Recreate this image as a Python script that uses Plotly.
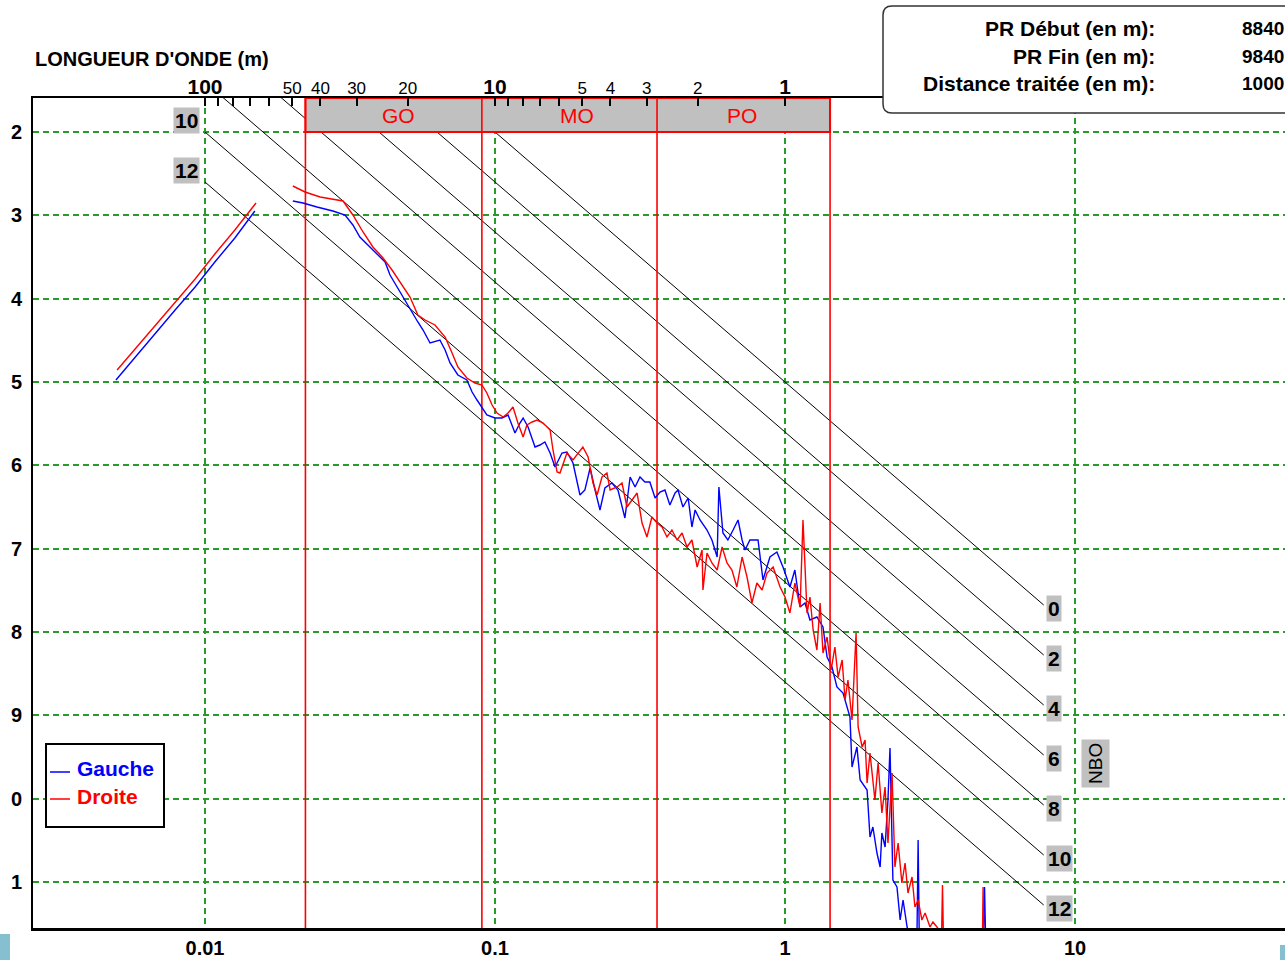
import numpy as np
import plotly.graph_objects as go

# ---------------- DATA ----------------
# x : log10 of wavenumber (cycles/m) ; y : log10 of PSD
gauche_low_logk = [-2.307, -2.241, -2.172, -2.103, -2.034, -1.966, -1.897, -1.828]
gauche_low_logpsd = [-4.976, -4.700, -4.412, -4.136, -3.860, -3.560, -3.272, -2.948]
droite_low_logk = [-2.303, -2.241, -2.172, -2.103, -2.034, -1.966, -1.897, -1.824]
droite_low_logpsd = [-4.856, -4.604, -4.316, -4.040, -3.764, -3.464, -3.176, -2.852]

gauche_logk = [-1.697, -1.662, -1.614, -1.559, -1.517, -1.490, -1.466, -1.421, -1.379, -1.362,
               -1.338, -1.310, -1.286, -1.266, -1.248, -1.224, -1.190, -1.172, -1.155, -1.128,
               -1.097, -1.079, -1.062, -1.045, -1.028, -1.000, -0.976, -0.955, -0.931, -0.914,
               -0.903, -0.886, -0.862, -0.845, -0.828, -0.810, -0.793, -0.769, -0.752, -0.731,
               -0.707, -0.690, -0.672, -0.655, -0.638, -0.621, -0.597, -0.576, -0.552, -0.534,
               -0.517, -0.500, -0.483, -0.466, -0.448, -0.431, -0.414, -0.397, -0.379, -0.369,
               -0.352, -0.334, -0.321, -0.310, -0.293, -0.269, -0.252, -0.234, -0.228, -0.214,
               -0.197, -0.179, -0.162, -0.148, -0.138, -0.121, -0.093, -0.076, -0.052, -0.028,
               -0.007, 0.017, 0.034, 0.052, 0.069, 0.086, 0.110, 0.131, 0.145, 0.162,
               0.179, 0.200, 0.214, 0.224, 0.231, 0.248, 0.259, 0.283, 0.293, 0.303,
               0.317, 0.328, 0.334, 0.345, 0.355, 0.362, 0.372, 0.386, 0.397, 0.407,
               0.421, 0.431, 0.455, 0.459, 0.463, 0.560, 0.683, 0.688, 0.693]
gauche_logpsd = [-2.828, -2.852, -2.900, -2.948, -2.996, -3.116, -3.260, -3.416, -3.560, -3.716,
                 -3.860, -4.016, -4.160, -4.280, -4.376, -4.532, -4.496, -4.616, -4.772, -4.916,
                 -4.976, -5.120, -5.216, -5.300, -5.396, -5.432, -5.432, -5.396, -5.612, -5.492,
                 -5.432, -5.540, -5.780, -5.756, -5.720, -5.852, -6.020, -5.852, -5.840, -5.972,
                 -6.356, -6.296, -6.032, -6.296, -6.536, -6.272, -6.212, -6.296, -6.632, -6.140,
                 -6.260, -6.140, -6.200, -6.200, -6.392, -6.320, -6.296, -6.476, -6.332, -6.296,
                 -6.500, -6.392, -6.740, -6.536, -6.656, -6.776, -6.896, -7.100, -6.260, -6.812,
                 -6.896, -6.776, -6.656, -6.896, -7.016, -6.896, -6.896, -7.376, -7.100, -7.040,
                 -7.220, -7.460, -7.256, -7.700, -7.652, -7.856, -7.820, -7.940, -8.300, -8.420,
                 -8.660, -8.732, -8.900, -9.020, -9.620, -9.380, -9.776, -9.896, -10.460, -10.340,
                 -10.652, -10.820, -10.412, -10.580, -10.016, -9.392, -10.976, -11.060, -11.456, -11.216,
                 -11.540, -11.696, -11.650, -10.496, -11.700, -12.100, -11.900, -11.060, -11.900]

droite_logk = [-1.697, -1.655, -1.603, -1.524, -1.490, -1.455, -1.421, -1.386, -1.355, -1.328,
               -1.293, -1.266, -1.241, -1.207, -1.172, -1.148, -1.128, -1.097, -1.069, -1.045,
               -1.028, -1.010, -0.993, -0.972, -0.955, -0.938, -0.921, -0.903, -0.890, -0.872,
               -0.855, -0.834, -0.810, -0.800, -0.786, -0.776, -0.752, -0.731, -0.714, -0.697,
               -0.679, -0.662, -0.648, -0.631, -0.614, -0.603, -0.579, -0.562, -0.545, -0.528,
               -0.510, -0.493, -0.476, -0.459, -0.441, -0.424, -0.407, -0.390, -0.372, -0.355,
               -0.338, -0.321, -0.303, -0.286, -0.283, -0.269, -0.252, -0.234, -0.217, -0.200,
               -0.183, -0.166, -0.148, -0.131, -0.114, -0.097, -0.079, -0.062, -0.041, -0.017,
               0.000, 0.017, 0.034, 0.052, 0.062, 0.076, 0.086, 0.097, 0.110, 0.121,
               0.131, 0.145, 0.159, 0.172, 0.183, 0.197, 0.207, 0.217, 0.231, 0.245,
               0.252, 0.266, 0.276, 0.283, 0.293, 0.310, 0.321, 0.334, 0.345, 0.355,
               0.369, 0.379, 0.390, 0.403, 0.414, 0.424, 0.438, 0.448, 0.459, 0.472,
               0.483, 0.500, 0.510, 0.524, 0.540, 0.543, 0.546, 0.620, 0.680, 0.683, 0.686]
droite_logpsd = [-2.648, -2.720, -2.780, -2.828, -2.996, -3.200, -3.380, -3.512, -3.656, -3.800,
                 -3.980, -4.196, -4.256, -4.316, -4.460, -4.652, -4.820, -4.952, -5.012, -5.036,
                 -5.132, -5.276, -5.372, -5.420, -5.372, -5.300, -5.492, -5.660, -5.516, -5.480,
                 -5.456, -5.492, -5.576, -5.816, -6.080, -6.092, -5.852, -5.936, -5.852, -5.780,
                 -5.900, -6.212, -6.356, -6.140, -6.092, -6.296, -6.260, -6.212, -6.500, -6.416,
                 -6.332, -6.692, -6.860, -6.620, -6.692, -6.740, -6.860, -6.776, -6.896, -6.812,
                 -6.980, -6.896, -7.220, -7.016, -7.496, -7.052, -7.172, -7.256, -6.980, -7.172,
                 -7.256, -7.460, -7.100, -7.340, -7.652, -7.412, -7.496, -7.292, -7.220, -7.460,
                 -7.580, -7.772, -7.412, -7.700, -6.656, -7.772, -7.580, -7.976, -8.216, -7.652,
                 -8.252, -8.060, -8.456, -8.180, -8.540, -8.336, -8.816, -8.576, -9.056, -8.012,
                 -9.140, -9.380, -9.296, -9.812, -9.452, -10.016, -9.572, -10.172, -9.860, -10.532,
                 -9.692, -10.820, -10.532, -11.012, -10.772, -11.132, -10.940, -11.300, -11.216, -11.456,
                 -11.372, -11.540, -11.480, -11.540, -11.620, -11.036, -11.620, -12.200, -11.900, -11.060, -11.900]

# band limits (wavenumber, cycles/m) and names
band_edges_k = [0.0222, 0.0901, 0.362, 1.43]
band_names = ["GO", "MO", "PO"]

# NBO reference lines: log10(PSD) = nbo_intercept + nbo_slope*log10(k) - nbo_step*NBO
nbo_levels = [0, 2, 4, 6, 8, 10, 12]
nbo_left_labels = [10, 12]
nbo_k_start = 0.01
nbo_k_end = 7.8
nbo_slope = -3.0
nbo_intercept = -5.0
nbo_step = 0.3

# axes
x_ticks = [0.01, 0.1, 1, 10]
x_ticklabels = ["0.01", "0.1", "1", "10"]
y_ticks = [-2, -3, -4, -5, -6, -7, -8, -9, -10, -11]
y_ticklabels = ["2", "3", "4", "5", "6", "7", "8", "9", "0", "1"]
wl_ticks = [100, 90, 80, 70, 60, 50, 40, 30, 20, 10, 9, 8, 7, 6, 5, 4, 3, 2, 1]
wl_major = [100, 10, 1]
wl_labelled = [50, 40, 30, 20, 5, 4, 3, 2]

info_labels = ["PR Début (en m):", "PR Fin (en m):", "Distance traitée (en m):"]
info_values = ["8840", "9840", "1000"]

# ---------------- LAYOUT HELPERS ----------------
W, H = 1285, 960
L, R, T, B = 33, 1285, 98, 928
XR = [-2.593, 1.724]
YR = [-11.552, -1.592]
NARROW = "Liberation Sans Narrow, Arial Narrow, Liberation Sans, Arial, sans-serif"
GREEN = "#2a9a2a"


def px(x):
    return (x - L) / (R - L)


def py(y):
    return (B - y) / (B - T)


fig = go.Figure()

# NBO lines
for n in nbo_levels:
    ks = np.array([nbo_k_start, nbo_k_end])
    ys = nbo_intercept + nbo_slope * np.log10(ks) - nbo_step * n
    fig.add_trace(go.Scatter(x=ks, y=ys, mode="lines", line=dict(color="black", width=1),
                             showlegend=False, hoverinfo="skip"))

# grey band with red border
k0, k3 = band_edges_k[0], band_edges_k[-1]
fig.add_trace(go.Scatter(x=[k0, k3, k3, k0, k0], y=[YR[1], YR[1], -2, -2, YR[1]],
                         fill="toself", fillcolor="#c0c0c0", mode="lines",
                         line=dict(color="red", width=2), showlegend=False, hoverinfo="skip"))
# red vertical lines
for kb in band_edges_k:
    fig.add_trace(go.Scatter(x=[kb, kb], y=[YR[1], YR[0]], mode="lines",
                             line=dict(color="red", width=1.6), showlegend=False, hoverinfo="skip"))

# data
gx = list(10 ** np.array(gauche_low_logk)) + [None] + list(10 ** np.array(gauche_logk))
gy = list(gauche_low_logpsd) + [None] + list(gauche_logpsd)
dx = list(10 ** np.array(droite_low_logk)) + [None] + list(10 ** np.array(droite_logk))
dy = list(droite_low_logpsd) + [None] + list(droite_logpsd)
fig.add_trace(go.Scatter(x=gx, y=gy, mode="lines", name="Gauche",
                         line=dict(color="#0000ff", width=1.4), connectgaps=False, showlegend=False))
fig.add_trace(go.Scatter(x=dx, y=dy, mode="lines", name="Droite",
                         line=dict(color="#ff0000", width=1.4), connectgaps=False, showlegend=False))

# dummy trace for top axis
fig.add_trace(go.Scatter(x=[1], y=[None], xaxis="x2", mode="lines", showlegend=False, hoverinfo="skip"))

# top axis tick text
wl_text = []
for w in wl_ticks:
    if w in wl_major:
        wl_text.append('<span style="font-size:21px"><b>%d</b></span>' % w)
    elif w in wl_labelled:
        wl_text.append(str(w))
    else:
        wl_text.append("")

annotations = []
# band names
band_label_shift = [5, 8, -2]
for i, name in enumerate(band_names):
    kc = np.sqrt(band_edges_k[i] * band_edges_k[i + 1])
    annotations.append(dict(x=np.log10(kc), y=-1.80, xref="x", yref="y", text=name,
                            showarrow=False, xshift=band_label_shift[i],
                            font=dict(family=NARROW, size=21, color="red")))
# NBO labels on the right
for n in nbo_levels:
    ye = nbo_intercept + nbo_slope * np.log10(nbo_k_end) - nbo_step * n
    annotations.append(dict(x=np.log10(nbo_k_end), y=ye, xref="x", yref="y", text="<b>%d</b>" % n,
                            showarrow=False, xanchor="left", yanchor="middle", xshift=2, yshift=-3,
                            bgcolor="#c0c0c0", borderpad=1,
                            font=dict(family=NARROW, size=21, color="black")))
# NBO labels on the left
for n in nbo_left_labels:
    ys = nbo_intercept + nbo_slope * np.log10(nbo_k_start) - nbo_step * n
    annotations.append(dict(x=np.log10(nbo_k_start), y=ys, xref="x", yref="y", text="<b>%d</b>" % n,
                            showarrow=False, xanchor="right", yanchor="bottom", xshift=-5, yshift=-2,
                            bgcolor="#c0c0c0", borderpad=1,
                            font=dict(family=NARROW, size=21, color="black")))
# NBO vertical label
annotations.append(dict(x=px(1095), y=py(764), xref="paper", yref="paper", text="NBO", textangle=-90,
                        showarrow=False, bgcolor="#c0c0c0", borderpad=3, xanchor="center", yanchor="middle",
                        font=dict(family="Liberation Sans, Arial", size=19, color="black")))
# top-left title
annotations.append(dict(x=px(33), y=py(59), xref="paper", yref="paper", text="<b>LONGUEUR D'ONDE (m)</b>",
                        showarrow=False, xanchor="left", yanchor="middle",
                        font=dict(family=NARROW, size=20, color="black")))
# info box texts
for lab, val, yy in zip(info_labels, info_values, [29, 57, 84]):
    annotations.append(dict(x=px(1157), y=py(yy), xref="paper", yref="paper", text="<b>%s</b>" % lab,
                            showarrow=False, xanchor="right", yanchor="middle",
                            font=dict(family=NARROW, size=21, color="black")))
    annotations.append(dict(x=px(1240), y=py(yy), xref="paper", yref="paper", text="<b>%s</b>" % val,
                            showarrow=False, xanchor="left", yanchor="middle",
                            font=dict(family=NARROW, size=19, color="black")))
# legend texts
annotations.append(dict(x=px(75), y=py(768), xref="paper", yref="paper", text="<b>Gauche</b>",
                        showarrow=False, xanchor="left", yanchor="middle",
                        font=dict(family=NARROW, size=21, color="#0000ff")))
annotations.append(dict(x=px(75), y=py(796), xref="paper", yref="paper", text="<b>Droite</b>",
                        showarrow=False, xanchor="left", yanchor="middle",
                        font=dict(family=NARROW, size=21, color="#ff0000")))

shapes = []
# info box (rounded)
bl, bt, br, bb, r = 883, 6, 1300, 113, 9
path = ("M %f,%f L %f,%f L %f,%f L %f,%f Q %f,%f %f,%f L %f,%f Q %f,%f %f,%f Z" % (
    px(bl + r), py(bt), px(br), py(bt), px(br), py(bb), px(bl + r), py(bb),
    px(bl), py(bb), px(bl), py(bb - r), px(bl), py(bt + r), px(bl), py(bt), px(bl + r), py(bt)))
shapes.append(dict(type="path", path=path, xref="paper", yref="paper", fillcolor="white",
                   line=dict(color="#333333", width=1.5), layer="above"))
# legend box
shapes.append(dict(type="rect", x0=px(46), x1=px(164), y0=py(744), y1=py(827), xref="paper", yref="paper",
                   fillcolor="white", line=dict(color="black", width=2), layer="above"))
shapes.append(dict(type="line", x0=px(50), x1=px(70), y0=py(772), y1=py(772), xref="paper", yref="paper",
                   line=dict(color="#0000ff", width=1.5), layer="above"))
shapes.append(dict(type="line", x0=px(50), x1=px(70), y0=py(799), y1=py(799), xref="paper", yref="paper",
                   line=dict(color="#ff0000", width=1.5), layer="above"))
# decorative slide marks
shapes.append(dict(type="rect", x0=px(0), x1=px(10), y0=py(960), y1=py(934), xref="paper", yref="paper",
                   fillcolor="#86bfd0", line=dict(width=0), layer="above"))
shapes.append(dict(type="rect", x0=px(1280), x1=px(1286), y0=py(960), y1=py(945), xref="paper", yref="paper",
                   fillcolor="#86bfd0", line=dict(width=0), layer="above"))

fig.update_layout(
    width=W, height=H,
    margin=dict(l=L, r=W - R, t=T, b=H - B, pad=0),
    paper_bgcolor="white", plot_bgcolor="white",
    showlegend=False,
    xaxis=dict(type="log", range=XR, tickvals=x_ticks, ticktext=["<b>%s</b>" % t for t in x_ticklabels],
               ticks="", showgrid=True, gridcolor=GREEN, gridwidth=1.5, griddash="6px,4px",
               showline=True, linecolor="black", linewidth=2.5, zeroline=False,
               tickfont=dict(family=NARROW, size=20, color="black")),
    xaxis2=dict(type="log", range=XR, overlaying="x", side="top", anchor="y",
                tickvals=[1.0 / w for w in wl_ticks], ticktext=wl_text,
                ticks="inside", ticklen=8, tickwidth=1.5, tickcolor="black", ticklabelstandoff=-5,
                showgrid=False, showline=True, linecolor="black", linewidth=1.5, zeroline=False,
                tickfont=dict(family=NARROW, size=17, color="black")),
    yaxis=dict(range=YR, tickvals=y_ticks, ticktext=["<b>%s</b>" % t for t in y_ticklabels],
               ticks="", showgrid=True, gridcolor=GREEN, gridwidth=1.5, griddash="6px,4px",
               showline=True, linecolor="black", linewidth=2, zeroline=False, ticklabelstandoff=5,
               tickfont=dict(family=NARROW, size=20, color="black")),
    annotations=annotations,
    shapes=shapes,
)

fig.write_html("out.html")
